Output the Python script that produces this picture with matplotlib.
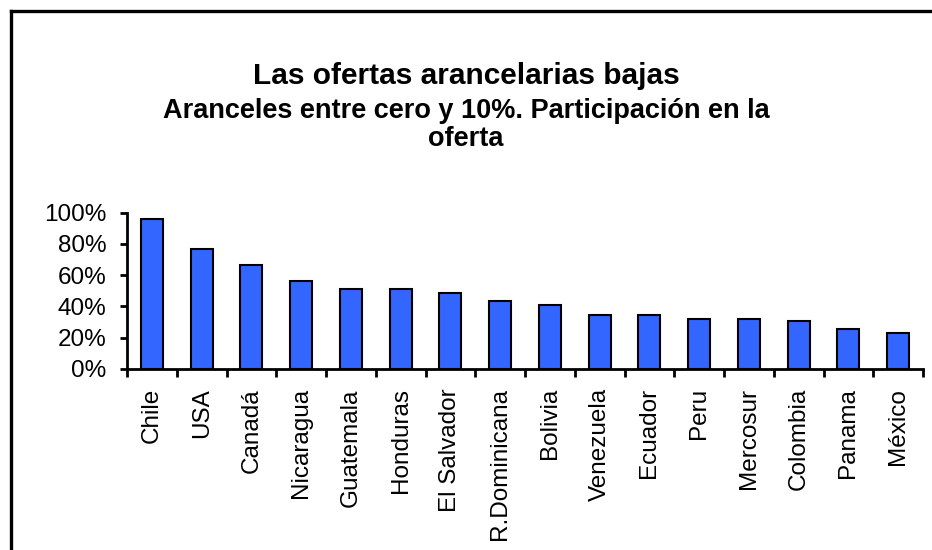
import matplotlib
matplotlib.use("Agg")
import matplotlib.pyplot as plt
import numpy as np
from matplotlib.lines import Line2D
from matplotlib.ticker import PercentFormatter, FixedLocator

paises = ['Chile', 'USA', 'Canadá', 'Nicaragua', 'Guatemala', 'Honduras',
          'El Salvador', 'R.Dominicana', 'Bolivia', 'Venezuela', 'Ecuador',
          'Peru', 'Mercosur', 'Colombia', 'Panama', 'México']
participacion = [0.957, 0.765, 0.662, 0.562, 0.509, 0.509, 0.483, 0.432,
                 0.406, 0.342, 0.342, 0.316, 0.316, 0.303, 0.252, 0.226]
y_ticks = [0, 0.2, 0.4, 0.6, 0.8, 1.0]

plt.rcParams['font.family'] = ['Liberation Sans', 'DejaVu Sans']

W, H = 932, 550
fig = plt.figure(figsize=(W / 100, H / 100), dpi=100)

# Okvir oko dijagrama (odrezan desno i dolje)
fig.add_artist(Line2D([11 / W, 11 / W], [0, 1 - 11 / H], transform=fig.transFigure,
                      color='black', lw=2.4))
fig.add_artist(Line2D([11 / W, 1], [1 - 11 / H, 1 - 11 / H], transform=fig.transFigure,
                      color='black', lw=2.4))

# Naslovi
fig.text(0.5, 1 - 76 / H, 'Las ofertas arancelarias bajas', ha='center', va='center',
         fontsize=21.5, fontweight='bold')
fig.text(0.5, 1 - 111 / H, 'Aranceles entre cero y 10%. Participación en la',
         ha='center', va='center', fontsize=19.5, fontweight='bold')
fig.text(0.5, 1 - 139 / H, 'oferta', ha='center', va='center',
         fontsize=19.5, fontweight='bold')

left, right = 127 / W, 923 / W
bottom, top = 1 - 368.7 / H, 1 - 212.7 / H
ax = fig.add_axes([left, bottom, right - left, top - bottom])

x = np.arange(len(paises))
ax.bar(x, participacion, width=0.44, color='#3366FF', edgecolor='black', linewidth=1.5)

ax.set_xlim(-0.5, len(paises) - 0.5)
ax.set_ylim(0, 1)
ax.set_yticks(y_ticks)
ax.yaxis.set_major_formatter(PercentFormatter(1.0, decimals=0))

ax.set_xticks(x)
ax.set_xticklabels(paises, rotation=90)
ax.xaxis.set_minor_locator(FixedLocator(np.arange(len(paises) + 1) - 0.5))

for s in ['top', 'right']:
    ax.spines[s].set_visible(False)
for s in ['left', 'bottom']:
    ax.spines[s].set_linewidth(2)

ax.tick_params(axis='x', which='major', length=0, pad=14, labelsize=17.5)
ax.tick_params(axis='x', which='minor', length=6, width=2, direction='out')
ax.tick_params(axis='y', length=5, width=2, direction='out', pad=10, labelsize=17.5)

fig.savefig('out.png', dpi=100)
